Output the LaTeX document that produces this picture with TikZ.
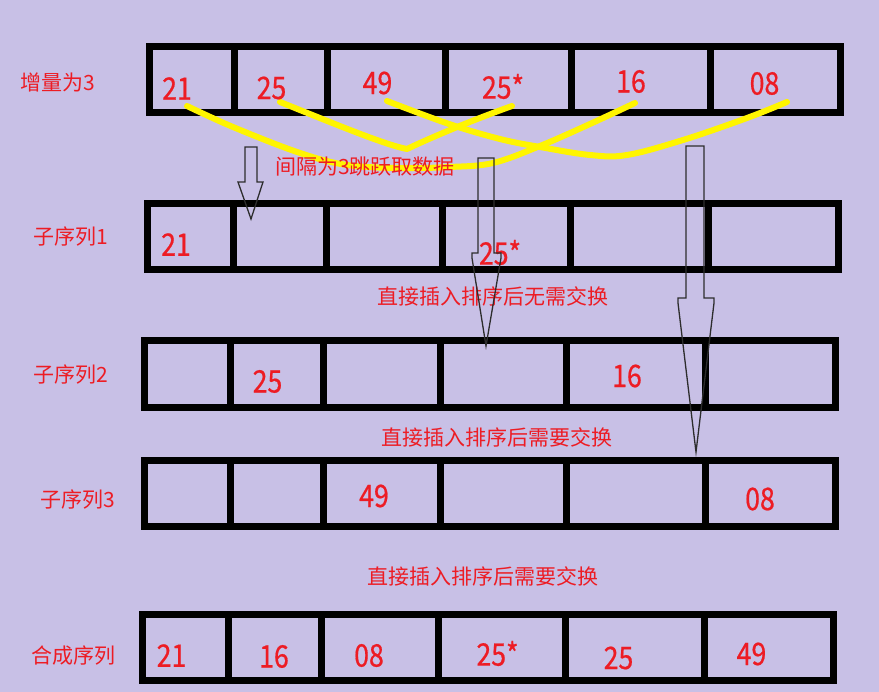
\documentclass[tikz,border=0pt]{standalone}
\usepackage{fontspec}
\setmainfont{Noto Sans CJK SC}
\newfontfamily\digitfont[FakeStretch=0.86,FakeBold=0.6]{Noto Sans CJK SC}
\definecolor{bgpurple}{RGB}{200,192,230}
\definecolor{txtred}{RGB}{237,28,36}
\definecolor{hlyellow}{RGB}{255,245,0}
\definecolor{arrowgray}{RGB}{45,45,45}
\begin{document}
\begin{tikzpicture}[x=1pt,y=-1pt,
  num/.style={text=txtred, font=\digitfont\fontsize{31}{31}\selectfont, inner sep=0pt},
  lab/.style={text=txtred, font=\fontsize{21}{21}\selectfont, inner sep=0pt},
  boxline/.style={line width=7pt, draw=black, line join=miter},
  yel/.style={draw=hlyellow, line width=6pt, line cap=round, line join=round},
  barrow/.style={draw=arrowgray, line width=1.3pt, line join=miter}]
\fill[bgpurple] (0,0) rectangle (879,692);
\useasboundingbox (0,0) rectangle (879,692);

% rows of cells
\draw[boxline] (149,46.5) rectangle (840,112.5);
\foreach \x in {234,327.5,445,571,710} \draw[boxline] (\x,46.5) -- (\x,112.5);
\draw[boxline] (147.5,204) rectangle (838,269.5);
\foreach \x in {233,326,442,570,708.5} \draw[boxline] (\x,204) -- (\x,269.5);
\draw[boxline] (144.5,340.5) rectangle (835.5,407.5);
\foreach \x in {230,323.5,440,566.5,705} \draw[boxline] (\x,340.5) -- (\x,407.5);
\draw[boxline] (144.5,461) rectangle (835.5,527);
\foreach \x in {230,323.5,440,566.5,705} \draw[boxline] (\x,461) -- (\x,527);
\draw[boxline] (142.5,614) rectangle (833.5,680);
\foreach \x in {228.5,321.5,438.5,565,704} \draw[boxline] (\x,614) -- (\x,680);

% yellow jump curves
\draw[yel] plot[smooth, tension=0.6] coordinates {(187,106) (233,127) (300,153) (347,165) (400,168) (450,167) (493,163) (540,146) (590,124) (635,103)};
\draw[yel] (280,102) .. controls (330,122) and (385,145) .. (407,149) .. controls (430,138) and (470,121) .. (512,106);
\draw[yel] plot[smooth, tension=0.6] coordinates {(387,101) (449,124) (500,139) (540,147) (590,155) (627,155) (683,140) (747,118) (787,102)};

% labels
\node[lab] (l0) at (58,82) {增量为3};
\node[lab] (gap) at (365,167) {间隔为3跳跃取数据};
\node[lab] (l1) at (71,237) {子序列1};
\node[lab] (n1) at (492.5,296.5) {直接插入排序后无需交换};
\node[lab] (l2) at (71,375) {子序列2};
\node[lab] (n2) at (497,437.5) {直接插入排序后需要交换};
\node[lab] (l3) at (77.5,500) {子序列3};
\node[lab] (n3) at (483,576.5) {直接插入排序后需要交换};
\node[lab] (l4) at (73.5,656) {合成序列};

% numbers
\node[num] (a1) at (177,88.5) {21};
\node[num] (a2) at (271.5,88) {25};
\node[num] (a3) at (377.5,83) {49};
\node[num] (a4) at (503,86.5) {25*};
\node[num] (a5) at (631,81.5) {16};
\node[num] (a6) at (764.5,83.5) {08};

\node[num] (b1) at (176,244.5) {21};
\node[num] (b4) at (500,252.5) {25*};

\node[num] (c2) at (267.5,381.5) {25};
\node[num] (c5) at (627,376) {16};

\node[num] (d3) at (374,496) {49};
\node[num] (d6) at (760,499) {08};

\node[num] (e1) at (171.5,655.5) {21};
\node[num] (e2) at (274,656.5) {16};
\node[num] (e3) at (369,655.5) {08};
\node[num] (e4) at (497.5,653.5) {25*};
\node[num] (e5) at (618.5,658) {25};
\node[num] (e6) at (751.5,654) {49};

% block arrows
\draw[barrow] (245,147) -- (257,147) -- (257,182) -- (263,182) -- (251,219) -- (238,182) -- (245,182) -- cycle;
\draw[barrow] (478,158) -- (494,158) -- (494,253) -- (501,253) -- (501,258) -- (486,346) -- (472,258) -- (472,253) -- (478,253) -- cycle;
\draw[barrow] (686,146) -- (704,146) -- (704,298) -- (714,298) -- (714,303) -- (696,452) -- (678,303) -- (678,298) -- (686,298) -- cycle;
\end{tikzpicture}
\end{document}
